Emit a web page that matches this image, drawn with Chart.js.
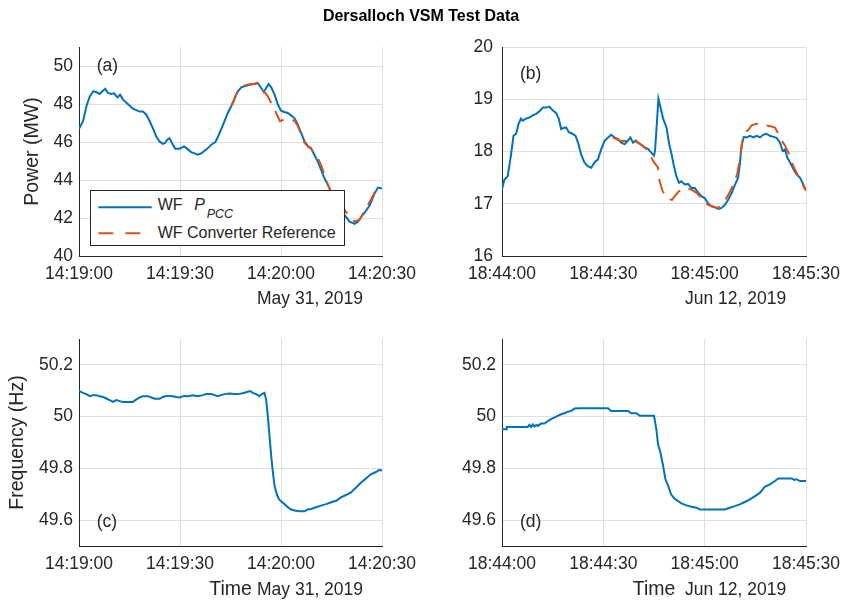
<!DOCTYPE html>
<html><head><meta charset="utf-8">
<script src="https://cdn.jsdelivr.net/npm/chart.js@4.4.1/dist/chart.umd.min.js"></script>
<style>
html,body{margin:0;padding:0;background:#fff;}
#wrap{position:relative;width:842px;height:601px;overflow:hidden;font-family:"Liberation Sans",Arial,sans-serif;color:#262626;}
canvas{position:absolute;left:0;top:0;}
.t{position:absolute;white-space:nowrap;line-height:1;}
</style></head><body>
<div id="wrap">
<canvas id="ca" width="842" height="601"></canvas>
<canvas id="cb" width="842" height="601"></canvas>
<canvas id="cc" width="842" height="601"></canvas>
<canvas id="cd" width="842" height="601"></canvas>

<div class="t" style="left:0;width:842px;text-align:center;top:8px;font-size:16px;font-weight:bold;color:#000;">Dersalloch VSM Test Data</div>

<div class="t" style="left:96.7px;top:57px;font-size:17.5px;">(a)</div>
<div class="t" style="left:520px;top:64.7px;font-size:17.5px;">(b)</div>
<div class="t" style="left:96.7px;top:513px;font-size:17.5px;">(c)</div>
<div class="t" style="left:520px;top:513px;font-size:17.5px;">(d)</div>

<div class="t" style="left:257px;top:290px;font-size:17.5px;">May 31, 2019</div>
<div class="t" style="left:685px;top:290px;font-size:17.5px;">Jun 12, 2019</div>
<div class="t" style="left:257px;top:581px;font-size:17.5px;">May 31, 2019</div>
<div class="t" style="left:685px;top:581px;font-size:17.5px;">Jun 12, 2019</div>

<div id="legend" style="position:absolute;left:90px;top:190px;width:253px;height:54px;border:1px solid #262626;background:#fff;"></div>
<svg style="position:absolute;left:0;top:0;" width="842" height="601">
  <line x1="98.3" y1="207.3" x2="151.7" y2="207.3" stroke="#0072BD" stroke-width="2"/>
  <line x1="98.3" y1="233.3" x2="151.7" y2="233.3" stroke="#D95319" stroke-width="2" stroke-dasharray="15 12"/>
</svg>
<div class="t" style="left:157.7px;top:197px;font-size:16px;">WF</div>
<div class="t" style="left:194.3px;top:197px;font-size:16px;font-style:italic;">P</div>
<div class="t" style="left:206.7px;top:207.5px;font-size:12.5px;font-style:italic;">PCC</div>
<div class="t" style="left:157.7px;top:225px;font-size:16px;">WF Converter Reference</div>
</div>

<script>
// ---------- axis ticks ----------
const tickTimesSec = [0, 30, 60, 90];
const tickLabelsMay = ['14:19:00', '14:19:30', '14:20:00', '14:20:30'];
const tickLabelsJun = ['18:44:00', '18:44:30', '18:45:00', '18:45:30'];
const powerTicksMay = [40, 42, 44, 46, 48, 50];
const powerTicksJun = [16, 17, 18, 19, 20];
const freqTicks = [49.6, 49.8, 50, 50.2];

// ---------- (a) May 31: power (seconds after 14:19:00) ----------
const timeA_pcc = [0,1.2,2.2,3.2,4.2,5.1,6.1,7.1,7.8,8.6,
  9.6,10.4,11.4,12.2,13.1,14.5,16,17,18,19,
  20,21,22,22.9,23.9,24.9,25.6,26.2,26.9,27.6,
  28.6,29.9,31.2,32.1,33.3,34.3,35.3,36.3,37.3,38.3,
  39.3,40.5,41.2,42.2,43.2,44.2,45.2,46.2,47.2,48.2,
  49.2,50.1,51.1,52.1,53.1,54.1,54.9,55.6,56.3,57.1,
  58.1,59.1,60,61,62,63,64,65,66,67,
  68,68.9,69.9,70.9,71.9,72.9,73.9,75,76,77,
  78,79,80.4,81.9,82.9,83.9,85.4,86.4,87.8,88.8,90];
const powerA_pcc = [46.7,47.1,47.88,48.4,48.67,48.63,48.53,48.7,48.8,48.58,
  48.53,48.56,48.35,48.49,48.23,48.0,47.75,47.68,47.6,47.6,
  47.44,47.09,46.7,46.3,46.03,45.9,45.95,46.12,46.2,45.95,
  45.65,45.65,45.77,45.65,45.47,45.4,45.33,45.4,45.54,45.68,
  45.86,46.0,46.25,46.65,47.09,47.53,47.88,48.28,48.67,48.88,
  48.93,48.98,49.02,49.05,49.1,48.84,48.63,48.84,49.05,48.88,
  48.49,47.96,47.65,47.58,47.53,47.4,47.26,46.91,46.47,46.03,
  45.77,45.68,45.33,44.98,44.54,44.1,43.75,43.35,43.0,42.7,
  42.4,42.12,41.81,41.69,41.81,42.07,42.42,42.68,43.29,43.6,43.55];
const timeA_ref = [45.4,46.2,47.2,48.2,49.2,50.1,51.1,52.1,53.1,54.1,
  55.1,56.1,57.1,58.1,59.7,61,62.5,64,65,66,
  67,68,68.9,69.9,70.9,71.9,72.9,73.9,75,76,
  77,78,78.8,80.3,81.8,83.3,84.8,86.7,88.2,89.2];
const powerA_ref = [47.9,48.3,48.7,48.9,48.98,49.02,49.05,49.07,49.12,48.9,
  48.62,48.4,48.05,47.7,47.1,47.2,47.18,47.12,46.85,46.4,
  45.95,45.77,45.65,45.42,45.16,44.8,44.28,43.75,43.3,42.95,
  42.7,42.5,42.44,42.09,41.82,41.9,42.35,42.96,43.49,43.6];

// ---------- (b) Jun 12: power (seconds after 18:44:00) ----------
const timeB_pcc = [0,0.7,1.7,2.7,3.4,4.2,4.9,5.6,6.1,7.1,
  8.1,9.1,10.1,11.1,12.1,13.1,14,15,16,16.8,
  17.5,18.2,19,19.8,20.8,21.8,22.5,23.4,24.4,25.4,
  26.4,27.4,28.4,29.4,30.4,31.4,32.3,33.3,34.3,35.3,
  36.3,37.3,38,38.8,39.6,40.3,41.2,42.2,43.2,44.2,
  45,45.3,45.9,46.3,46.9,47.7,48.7,49.5,50.2,50.8,
  51.6,52.4,53.1,54.1,55.1,56.1,57.1,58.1,59.1,60,
  61,62,63,64,65,66,67,68,68.9,69.9,
  70.4,70.9,71.6,72.4,73.4,74.4,75.4,76.4,77.3,78.3,
  79.3,80.3,81.3,82.3,83.1,83.8,84.5,85.3,86.3,87.2,
  88.2,89.2,90];
const powerB_pcc = [17.27,17.46,17.53,17.95,18.3,18.34,18.53,18.63,18.59,18.63,
  18.65,18.69,18.72,18.77,18.84,18.84,18.86,18.79,18.74,18.63,
  18.43,18.45,18.46,18.37,18.34,18.3,18.17,17.95,17.79,17.72,
  17.69,17.79,17.85,18.05,18.21,18.27,18.32,18.27,18.24,18.17,
  18.14,18.21,18.27,18.17,18.21,18.17,18.13,18.08,18.05,17.98,
  17.92,18.01,18.59,19.01,18.85,18.63,18.46,18.14,17.95,17.75,
  17.53,17.4,17.43,17.37,17.38,17.3,17.3,17.21,17.14,17.11,
  17.01,16.95,16.93,16.9,16.92,16.98,17.08,17.21,17.35,17.5,
  17.75,18.11,18.28,18.27,18.3,18.27,18.3,18.27,18.32,18.34,
  18.3,18.28,18.26,18.17,18.01,18.04,17.88,17.79,17.66,17.56,
  17.5,17.37,17.25];
const timeB_ref = [32.8,33.8,35.3,36.8,38,39.3,40.8,42.2,43.7,44.7,
  46.2,46.6,47.5,48.6,50.3,51.1,52.1,53.1,54.6,56.1,
  57.6,58.6,59.5,61,62.5,64,65.5,67,68,69,
  69.6,70.4,71.2,71.9,72.9,73.9,75.4,76.9,78.3,79.8,
  80.8,81.8,82.8,83.8,84.8,85.8,86.7,87.7,88.7,90];
const powerB_ref = [18.27,18.24,18.2,18.2,18.25,18.2,18.15,18.08,17.98,17.82,
  17.69,17.45,17.25,17.12,17.07,17.14,17.22,17.28,17.3,17.27,
  17.21,17.14,17.05,16.98,16.95,16.92,17.01,17.17,17.3,17.46,
  17.56,17.85,18.21,18.37,18.41,18.5,18.53,18.54,18.5,18.48,
  18.46,18.34,18.21,18.11,17.98,17.79,17.66,17.53,17.4,17.25];

// ---------- (c) May 31: frequency ----------
const timeC = [0,1.2,2.2,3.2,4.2,5.1,6.1,7.1,8.1,9.1,
  10.1,11.1,12.1,13.1,14.5,16,17,18,19,20.5,
  21.5,22.5,23.9,24.9,25.9,27.4,28.9,29.9,31.2,32.3,
  33.8,35.3,36.8,37.8,39.3,40.3,41.2,42.2,43.2,44.7,
  46.2,47.2,48.2,49.2,50.1,50.9,51.6,52.6,53.6,54.3,
  55.1,55.6,56.1,56.6,57.1,57.6,58.1,58.6,59.1,59.5,
  60.2,61,62,63,64,65.5,67,67.9,68.9,70.4,
  71.9,73.4,74.9,76.4,77.8,79.3,80.8,82.3,83.8,85.3,
  86.7,88.2,89.2,90];
const freqC = [50.099,50.092,50.087,50.079,50.083,50.083,50.079,50.076,50.07,50.064,
  50.057,50.064,50.06,50.057,50.057,50.057,50.066,50.074,50.079,50.079,
  50.074,50.069,50.069,50.076,50.08,50.08,50.076,50.074,50.08,50.079,
  50.083,50.079,50.083,50.087,50.087,50.083,50.079,50.083,50.087,50.089,
  50.087,50.087,50.089,50.092,50.096,50.099,50.092,50.087,50.079,50.087,
  50.092,50.064,50.0,49.924,49.847,49.783,49.732,49.707,49.688,49.679,
  49.671,49.662,49.65,49.641,49.637,49.634,49.634,49.641,49.643,49.65,
  49.656,49.662,49.669,49.675,49.688,49.697,49.707,49.726,49.745,49.762,
  49.777,49.786,49.794,49.792];

// ---------- (d) Jun 12: frequency ----------
const timeD = [0,1.2,1.4,4.2,7.6,8.1,8.6,9.1,9.6,10.1,
  10.6,11.6,12.6,13.6,14.5,15.5,16.5,17.5,18.5,19.5,
  20.5,21.5,22.9,31.4,32.3,37.3,38.3,39.8,40.8,45,
  45.7,46.2,46.9,47.7,48.4,49.2,50.1,51.1,52.1,53.1,
  54.6,56.1,57.6,58.6,66,67.5,68.9,70.4,71.9,73.4,
  74.9,76.4,77.8,79.3,80.8,81.8,85.8,86.5,87.2,88.2,90];
const freqD = [49.951,49.951,49.96,49.96,49.96,49.968,49.96,49.97,49.962,49.968,
  49.964,49.973,49.973,49.983,49.99,49.996,50.003,50.009,50.013,50.019,
  50.022,50.031,50.032,50.032,50.022,50.022,50.013,50.013,50.003,50.003,
  49.951,49.893,49.861,49.809,49.757,49.732,49.699,49.683,49.674,49.665,
  49.657,49.652,49.648,49.641,49.641,49.648,49.654,49.661,49.67,49.68,
  49.693,49.706,49.729,49.738,49.751,49.761,49.761,49.755,49.758,49.751,49.751];

// ---------- drawing ----------
const FONT = "'Liberation Sans', Arial, sans-serif";
const INK = '#262626';
const GRID = '#dfdfdf';
const BLUE = '#0072BD';
const ORANGE = '#D95319';
Chart.defaults.font.family = FONT;

function pts(ts, vs) {
  const n = Math.min(ts.length, vs.length);
  const out = [];
  for (let i = 0; i < n; i++) out.push({x: ts[i], y: vs[i]});
  return out;
}
function fmt(v) { return String(Math.round(v * 10) / 10); }

function panel(id, area, yMin, yMax, yTicks, xLabels, datasets, yTitle, yTitlePad, xTitle, yTickPad) {
  const W = 842, H = 601;
  new Chart(document.getElementById(id), {
    type: 'line',
    data: {datasets},
    options: {
      responsive: false, animation: false, events: [],
      layout: {padding: {left: 0, top: area.top, right: W - area.right, bottom: H - area.bottom - area.xh}},
      plugins: {legend: {display: false}, tooltip: {enabled: false}, title: {display: false}},
      elements: {point: {radius: 0}, line: {tension: 0, borderWidth: 2}},
      scales: {
        x: {
          type: 'linear', min: 0, max: 90, position: 'bottom',
          afterBuildTicks: s => { s.ticks = tickTimesSec.map(v => ({value: v})); },
          afterFit: s => { s.height = area.xh; s.paddingLeft = 0; s.paddingRight = 0; },
          ticks: {autoSkip: false, maxRotation: 0, minRotation: 0, padding: 8, color: INK,
                  font: {family: FONT, size: 17.5}, callback: (v, i) => xLabels[i]},
          grid: {color: GRID, drawTicks: false, lineWidth: 1},
          border: {display: true, color: INK, width: 1},
          title: xTitle ? {display: true, text: xTitle, color: INK, font: {family: FONT, size: 19.5}, padding: {top: 0, bottom: 0}} : {display: false}
        },
        y: {
          type: 'linear', min: yMin, max: yMax, position: 'left',
          afterBuildTicks: s => { s.ticks = yTicks.map(v => ({value: v})); },
          afterFit: s => { s.width = area.left; s.paddingTop = 0; s.paddingBottom = 0; },
          ticks: {padding: yTickPad, color: INK, font: {family: FONT, size: 17.5}, callback: v => fmt(v)},
          grid: {color: GRID, drawTicks: false, lineWidth: 1},
          border: {display: true, color: INK, width: 1},
          title: yTitle ? {display: true, text: yTitle, color: INK, font: {family: FONT, size: 19.5}, padding: {top: yTitlePad, bottom: 0}} : {display: false}
        }
      }
    }
  });
}

const pccStyle = {borderColor: BLUE, borderWidth: 2, fill: false, order: 2};
const refStyle = {borderColor: ORANGE, borderWidth: 2, borderDash: [15, 9], fill: false, order: 1};

panel('ca', {left: 79, right: 382, top: 47, bottom: 256, xh: 40}, 40, 51, powerTicksMay, tickLabelsMay,
  [Object.assign({label: 'WF P_PCC', data: pts(timeA_pcc, powerA_pcc)}, pccStyle),
   Object.assign({label: 'WF Converter Reference', data: pts(timeA_ref, powerA_ref)}, refStyle)],
  'Power (MW)', 21, null, 6);

panel('cb', {left: 502, right: 806, top: 47, bottom: 256, xh: 40}, 16, 20, powerTicksJun, tickLabelsJun,
  [Object.assign({label: 'WF P_PCC', data: pts(timeB_pcc, powerB_pcc)}, pccStyle),
   Object.assign({label: 'WF Converter Reference', data: pts(timeB_ref, powerB_ref)}, refStyle)],
  null, 0, null, 9);

panel('cc', {left: 79, right: 382, top: 339, bottom: 546, xh: 55}, 49.5, 50.3, freqTicks, tickLabelsMay,
  [Object.assign({label: 'Frequency', data: pts(timeC, freqC)}, pccStyle)],
  'Frequency (Hz)', 6, 'Time', 6);

panel('cd', {left: 502, right: 806, top: 339, bottom: 546, xh: 55}, 49.5, 50.3, freqTicks, tickLabelsJun,
  [Object.assign({label: 'Frequency', data: pts(timeD, freqD)}, pccStyle)],
  null, 0, 'Time', 6);
</script>
</body></html>
